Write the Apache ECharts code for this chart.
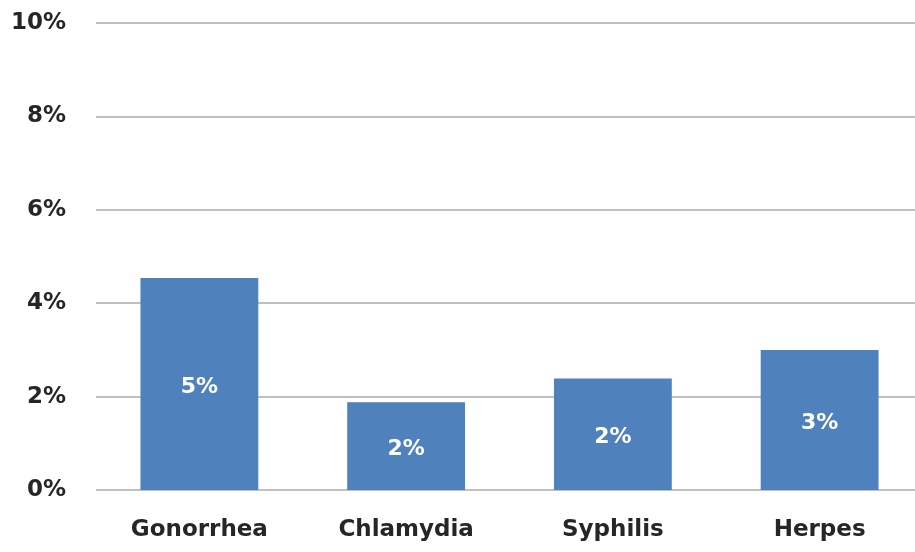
<!DOCTYPE html>
<html>
<head>
<meta charset="utf-8">
<script src="https://cdn.jsdelivr.net/npm/echarts@6/dist/echarts.min.js"></script>
<style>html,body{margin:0;padding:0;background:#fff;overflow:hidden}#c{width:925px;height:552px}</style>
</head>
<body>
<div id="c"></div>
<script>
var categories = ["Gonorrhea", "Chlamydia", "Syphilis", "Herpes"];
var values = [4.54, 1.88, 2.39, 3.0];
var yTicks = [0, 2, 4, 6, 8, 10];

var chart = echarts.init(document.getElementById('c'), null, {renderer: 'canvas'});
chart.setOption({
  animation: false,
  grid: {left: 96, right: 2, top: 23, bottom: 62, containLabel: false},
  xAxis: {
    type: 'category',
    data: categories,
    axisLine: {show: false},
    axisTick: {show: false},
    axisLabel: {color: '#262626', fontSize: 23, fontWeight: 'bold', fontFamily: 'DejaVu Sans', margin: 29}
  },
  yAxis: {
    type: 'value',
    min: yTicks[0],
    max: yTicks[yTicks.length - 1],
    interval: 2,
    axisLine: {show: false},
    axisTick: {show: false},
    splitLine: {lineStyle: {color: '#ababab', width: 1.5}},
    axisLabel: {color: '#262626', fontSize: 23, fontWeight: 'bold', fontFamily: 'DejaVu Sans', margin: 30,
      formatter: function (v) { return v + '%'; }}
  },
  series: [{
    type: 'bar',
    data: values,
    barCategoryGap: '43%',
    itemStyle: {color: '#4f81bd'},
    label: {
      show: true,
      position: 'inside',
      offset: [0, 3],
      color: '#fff',
      fontSize: 22,
      fontWeight: 'bold',
      fontFamily: 'DejaVu Sans',
      formatter: function (p) { return Math.round(p.value) + '%'; }
    }
  }]
});
</script>
</body>
</html>
